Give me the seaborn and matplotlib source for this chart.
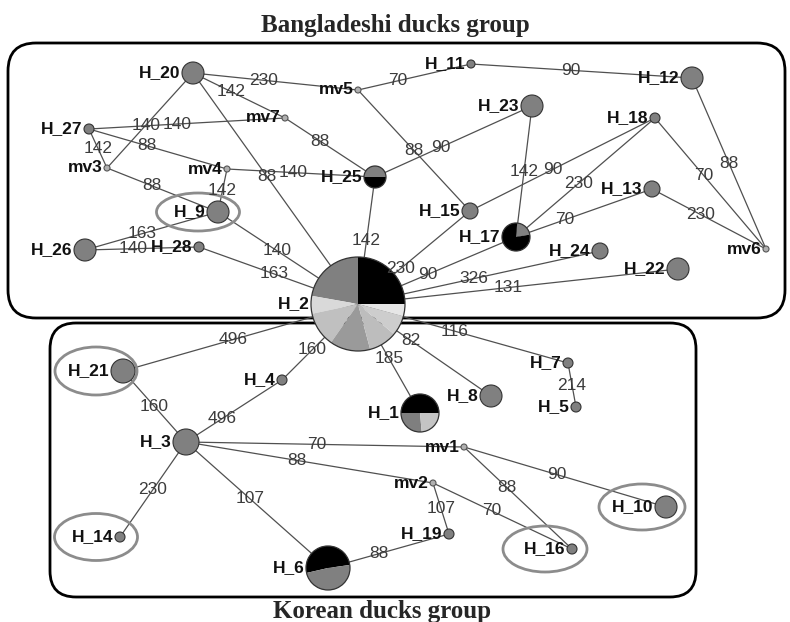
import matplotlib
matplotlib.use("Agg")
import matplotlib.pyplot as plt
from matplotlib.patches import Wedge, Ellipse, FancyBboxPatch
import pandas as pd
import seaborn as sns

# %%
# network layout (pixel positions)
node_names = ["H_2", "H_20", "mv5", "H_11", "H_12", "H_27", "mv7", "mv3", "mv4",
              "H_25", "H_23", "H_18", "H_13", "H_15", "H_17", "H_24", "H_22", "mv6",
              "H_9", "H_26", "H_28", "H_21", "H_4", "H_3", "H_1", "H_8", "H_7",
              "H_5", "mv1", "mv2", "H_19", "H_16", "H_10", "H_14", "H_6"]
node_x = [358, 193, 358, 471, 692, 89, 285, 107, 227,
          375, 532, 655, 652, 470, 516, 600, 678, 766,
          218, 85, 199, 123, 282, 186, 420, 491, 568,
          576, 464, 433, 449, 572, 666, 120, 328]
node_y = [304, 73, 90, 64, 78, 129, 118, 168, 169,
          177, 106, 118, 189, 211, 237, 251, 269, 249,
          212, 250, 247, 371, 380, 442, 413, 396, 363,
          407, 447, 483, 534, 549, 507, 537, 568]
node_r = [47, 11, 3, 4, 11, 5, 3, 3, 3,
          11, 11, 5, 8, 8, 14, 8, 11, 3,
          11, 11, 5, 12, 5, 13, 19, 11, 5,
          5, 3, 3, 5, 5, 11, 5, 22]

# pie-chart haplotypes: wedge sizes in degrees (counter-clockwise) and colours
pie_nodes = ["H_2", "H_25", "H_17", "H_1", "H_6"]
pie_start = [0, 0, 10, 0, 8]
pie_deg = [[90, 80, 22, 43, 50, 35, 25, 15],
           [180, 180],
           [75, 285],
           [180, 95, 85],
           [185, 175]]
pie_cols = [["#000000", "#808080", "#d9d9d9", "#c0c0c0", "#9a9a9a", "#bdbdbd", "#cdcdcd", "#e6e6e6"],
            ["#808080", "#000000"],
            ["#808080", "#000000"],
            ["#000000", "#7f7f7f", "#c4c4c4"],
            ["#000000", "#808080"]]

# links and mutation labels
edge_from = ["H_20", "H_20", "mv7", "H_20", "H_27", "H_27", "H_27", "mv3", "mv4", "mv4",
             "H_20", "H_26", "H_26", "H_9", "H_28", "H_25", "mv5", "H_11", "mv5", "H_25",
             "H_23", "H_15", "H_17", "H_17", "H_18", "H_12", "H_13", "H_2", "H_2", "H_2",
             "H_2", "H_2", "H_2", "H_2", "H_2", "H_2", "H_7", "H_21", "H_3", "H_3",
             "H_3", "H_3", "H_3", "mv1", "mv1", "mv2", "mv2", "H_6"]
edge_to = ["mv5", "mv7", "H_25", "mv3", "mv7", "mv3", "mv4", "H_9", "H_9", "H_25",
           "H_2", "H_9", "H_28", "H_2", "H_2", "H_2", "H_11", "H_12", "H_15", "H_23",
           "H_17", "H_18", "H_18", "H_13", "mv6", "mv6", "mv6", "H_15", "H_17", "H_24",
           "H_22", "H_21", "H_4", "H_1", "H_8", "H_7", "H_5", "H_3", "H_4", "mv1",
           "mv2", "H_14", "H_6", "H_10", "H_16", "H_16", "H_19", "H_19"]
edge_label = ["230", "142", "88", "140", "140", "142", "88", "88", "142", "140",
              "88", "163", "140", "140", "163", "142", "70", "90", "88", "90",
              "142", "90", "230", "70", "70", "88", "230", "230", "90", "326",
              "131", "496", "160", "185", "82", "116", "214", "160", "496", "70",
              "88", "230", "107", "90", "88", "70", "107", "88"]
edge_t = [0.43, 0.41, 0.39, 0.55, 0.45, 0.5, 0.42, 0.4, 0.5, 0.45,
          0.45, 0.43, 0.42, 0.42, 0.47, 0.5, 0.35, 0.45, 0.5, 0.42,
          0.5, 0.45, 0.45, 0.36, 0.44, 0.5, 0.43, 0.38, 0.44, 0.48,
          0.47, 0.53, 0.6, 0.5, 0.4, 0.46, 0.5, 0.5, 0.38, 0.47,
          0.45, 0.5, 0.45, 0.46, 0.4, 0.42, 0.5, 0.42]

# circled haplotypes
circled = ["H_9", "H_21", "H_14", "H_16", "H_10"]
circ_dx = [-20, -27, -24, -27, -24]
circ_w = [83, 82, 83, 84, 86]
circ_h = [38, 48, 47, 46, 46]

# %%
sns.set_theme(style="white")
plt.rcParams["font.family"] = ["Liberation Sans", "DejaVu Sans"]

nodes = pd.DataFrame({"node": node_names, "x": node_x, "y": node_y, "r": node_r})
pos = nodes.set_index("node")

fig = plt.figure(figsize=(7.9, 6.22), dpi=100)
ax = fig.add_axes([0, 0, 1, 1])
ax.set_xlim(0, 790)
ax.set_ylim(622, 0)
ax.set_axis_off()

# group boxes
ax.add_patch(FancyBboxPatch((8, 43), 777, 275, boxstyle="round,pad=0,rounding_size=28",
                            fc="none", ec="black", lw=2, zorder=0))
ax.add_patch(FancyBboxPatch((50, 323), 646, 274, boxstyle="round,pad=0,rounding_size=26",
                            fc="none", ec="black", lw=2, zorder=0))

# edges + labels
for a, b, lab, t in zip(edge_from, edge_to, edge_label, edge_t):
    x0, y0 = pos.loc[a, "x"], pos.loc[a, "y"]
    x1, y1 = pos.loc[b, "x"], pos.loc[b, "y"]
    ax.plot([x0, x1], [y0, y1], color="#505050", lw=0.9, zorder=1)
    ax.text(x0 + t * (x1 - x0), y0 + t * (y1 - y0), lab, ha="center", va="center",
            fontsize=12.5, color="#3c3c3c", zorder=4)

# ellipses round some haplotypes
for n, dx, w, h in zip(circled, circ_dx, circ_w, circ_h):
    ax.add_patch(Ellipse((pos.loc[n, "x"] + dx, pos.loc[n, "y"]), w, h,
                         fc="none", ec="#8c8c8c", lw=2, zorder=2))

# plain nodes
plain = nodes[~nodes["node"].isin(pie_nodes)].copy()
plain["kind"] = plain["node"].str.startswith("mv").map({True: "mv", False: "hap"})
sizes = {n: (2 * r * 0.72) ** 2 for n, r in zip(plain["node"], plain["r"])}
sns.scatterplot(data=plain[plain["kind"] == "hap"], x="x", y="y", size="node", sizes=sizes,
                color="#808080", edgecolor="#333333", linewidth=0.8, legend=False, ax=ax, zorder=3)
sns.scatterplot(data=plain[plain["kind"] == "mv"], x="x", y="y", size="node", sizes=sizes,
                color="#b0b0b0", edgecolor="#555555", linewidth=0.8, legend=False, ax=ax, zorder=3)

# pie nodes
for n, st, degs, cols in zip(pie_nodes, pie_start, pie_deg, pie_cols):
    cx, cy, r = pos.loc[n, "x"], pos.loc[n, "y"], pos.loc[n, "r"]
    a0 = st
    for d, c in zip(degs, cols):
        # y axis is inverted, so flip angles to keep counter-clockwise on screen
        ax.add_patch(Wedge((cx, cy), r, -(a0 + d), -a0, fc=c, ec="none", zorder=3))
        a0 += d
    ax.add_patch(Wedge((cx, cy), r, 0, 360, fc="none", ec="#333333", lw=0.9, zorder=3))

# node labels
for n, x, y, r in zip(node_names, node_x, node_y, node_r):
    ax.text(x - r - 1.5, y, n, ha="right", va="center", fontsize=12.5,
            fontweight="bold", color="#111111", zorder=5)

# group titles
ax.text(395, 32, "Bangladeshi ducks group", ha="center", va="baseline", fontsize=18,
        fontweight="bold", family=["Liberation Serif", "DejaVu Serif"])
ax.text(382, 618, "Korean ducks group", ha="center", va="baseline", fontsize=18,
        fontweight="bold", family=["Liberation Serif", "DejaVu Serif"])

fig.savefig("out.png", dpi=100)
